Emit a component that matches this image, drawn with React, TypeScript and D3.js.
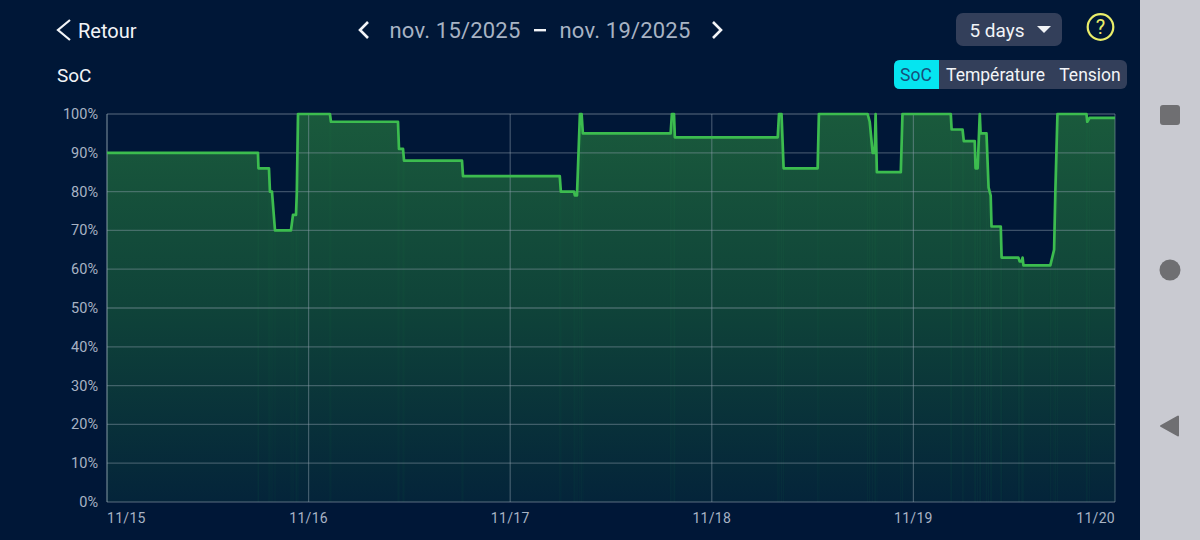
import * as d3 from "d3";

// hours since nov. 15 00:00
const hours = [
  0, 17.97, 18.03, 19.28, 19.4, 19.64, 20, 21.9, 22.14, 22.5, 22.6, 22.74, 26.54, 26.66, 34.64, 34.76,
  35.24, 35.36, 42.26, 42.38, 53.9, 54.03, 55.6, 55.7, 55.95, 56.3, 56.5, 56.65, 67.1, 67.25, 67.5, 67.6,
  79.85, 80, 80.3, 80.55, 84.6, 84.75, 90.55, 90.8, 91.15, 91.4, 91.5, 91.65, 94.5, 94.7, 100.45, 100.55,
  101.85, 102, 103.3, 103.4, 103.65, 103.9, 104, 104.7, 104.95, 105.2, 105.3, 106.4, 106.5, 108.5, 108.65,
  108.9, 109, 109.1, 112.3, 112.75, 112.9, 113.15, 116.6, 116.7, 116.98, 120,
];
const soc = [
  90, 90, 86, 86, 80, 80, 70, 70, 74, 74, 80, 100, 100, 98, 98, 91,
  91, 88, 88, 84, 84, 80, 80, 79, 79, 100, 100, 95, 95, 100, 100, 94,
  94, 100, 100, 86, 86, 100, 100, 98, 90, 90, 100, 85, 85, 100, 100, 96,
  96, 93, 93, 86, 86, 100, 95, 95, 81, 79, 71, 71, 63, 63, 62,
  62, 63, 61, 61, 65, 80, 100, 100, 98, 99, 99,
];
const yTicks = [0, 10, 20, 30, 40, 50, 60, 70, 80, 90, 100];
const xTicks = [0, 24, 48, 72, 96, 120];
const xLabels = ["11/15", "11/16", "11/17", "11/18", "11/19", "11/20"];
const tabs = ["SoC", "Température", "Tension"];

const width = 1200;
const height = 540;
const plot = { left: 107, right: 1115, top: 114, bottom: 502 };

export default function App() {
  const xScale = d3.scaleLinear().domain([0, 120]).range([plot.left, plot.right]);
  const yScale = d3.scaleLinear().domain([0, 100]).range([plot.bottom, plot.top]);
  const points = hours.map((h, i) => [h, soc[i]] as [number, number]);

  const line = d3
    .line<[number, number]>()
    .x((d) => xScale(d[0]))
    .y((d) => yScale(d[1]));
  const area = d3
    .area<[number, number]>()
    .x((d) => xScale(d[0]))
    .y0(plot.bottom)
    .y1((d) => yScale(d[1]));

  const white = "#f2f4f7";
  const grey = "#a8b3c4";
  const font = "Roboto, sans-serif";

  return (
    <svg
      width={width}
      height={height}
      style={{ position: "absolute", left: 0, top: 0, display: "block" }}
      fontFamily={font}
    >
      <defs>
        <linearGradient id="socFill" x1="0" y1={plot.top} x2="0" y2={plot.bottom} gradientUnits="userSpaceOnUse">
          <stop offset="0" stopColor="#1a5a3c" />
          <stop offset="0.5" stopColor="#0f4339" />
          <stop offset="1" stopColor="#04243a" />
        </linearGradient>
      </defs>
      <rect width={width} height={height} fill="#001737" />

      {/* navigation bar of the phone */}
      <rect x={1140} width={60} height={height} fill="#c9cad1" />
      <rect x={1160} y={105} width={20} height={20} rx={3} fill="#6f6f72" />
      <circle cx={1170} cy={270} r={10.5} fill="#6f6f72" />
      <path d="M1161 426 L1178 416.5 L1178 435.5 Z" fill="#6f6f72" stroke="#6f6f72" strokeWidth={2} strokeLinejoin="round" />

      {/* header */}
      <path d="M70 20 L58 30 L70 40" fill="none" stroke={white} strokeWidth={2.2} />
      <text x={78} y={37.5} fontSize={20} fill={white}>Retour</text>
      <path d="M368 22 L360 30 L368 38" fill="none" stroke={white} strokeWidth={2.6} />
      <text x={455} y={38} fontSize={22} fill={grey} textAnchor="middle" letterSpacing={0.2}>nov. 15/2025</text>
      <rect x={534} y={29} width={12} height={2.4} fill={white} />
      <text x={625} y={38} fontSize={22} fill={grey} textAnchor="middle" letterSpacing={0.2}>nov. 19/2025</text>
      <path d="M713 22 L721 30 L713 38" fill="none" stroke={white} strokeWidth={2.6} />
      <rect x={956} y={13} width={106} height={33} rx={7} fill="#333f5a" />
      <text x={997} y={37} fontSize={19} fill={white} textAnchor="middle">5 days</text>
      <path d="M1037 26 L1051 26 L1044 33 Z" fill={white} />
      <circle cx={1100.5} cy={27} r={12.8} fill="none" stroke="#eaee6a" strokeWidth={2.2} />
      <text x={1100.5} y={34} fontSize={20} fill="#eaee6a" textAnchor="middle">?</text>
      <text x={57} y={82} fontSize={19} fill={white}>SoC</text>

      {/* tabs */}
      <rect x={894} y={60} width={233} height={29} rx={6} fill="#333f5a" />
      <path d="M939 60 L900 60 Q894 60 894 66 L894 83 Q894 89 900 89 L939 89 Z" fill="#05e5f0" />
      <text x={916} y={81} fontSize={17.5} fill="#17507a" textAnchor="middle">{tabs[0]}</text>
      <text x={995.5} y={81} fontSize={17.5} fill={white} textAnchor="middle">{tabs[1]}</text>
      <text x={1090} y={81} fontSize={17.5} fill={white} textAnchor="middle">{tabs[2]}</text>

      {/* area, with the faint sample stripes */}
      <path d={area(points) ?? ""} fill="url(#socFill)" />
      {points.map((d, i) => (
        <line
          key={i}
          x1={xScale(d[0])}
          x2={xScale(d[0])}
          y1={yScale(d[1])}
          y2={plot.bottom}
          stroke="#3fae5e"
          strokeOpacity={0.05}
        />
      ))}

      {/* grid */}
      {yTicks.map((t) => (
        <g key={t}>
          <line
            x1={plot.left}
            x2={plot.right}
            y1={yScale(t)}
            y2={yScale(t)}
            stroke="#8fa0ad"
            strokeOpacity={0.42}
            strokeWidth={1.3}
          />
          <text x={98} y={yScale(t) + 5} fontSize={14.5} fill={grey} textAnchor="end">
            {t}%
          </text>
        </g>
      ))}
      {xTicks.map((t, i) => (
        <g key={t}>
          <line
            x1={xScale(t)}
            x2={xScale(t)}
            y1={plot.top}
            y2={plot.bottom}
            stroke="#8fa0ad"
            strokeOpacity={0.45}
            strokeWidth={1.2}
          />
          <text
            x={i === 0 ? plot.left : i === 5 ? plot.right : xScale(t)}
            y={523}
            fontSize={14}
            fill={grey}
            textAnchor={i === 0 ? "start" : i === 5 ? "end" : "middle"}
            letterSpacing={0.3}
          >
            {xLabels[i]}
          </text>
        </g>
      ))}
      <line x1={plot.left} x2={plot.left} y1={plot.top} y2={plot.bottom} stroke="#8fa0ad" strokeOpacity={0.45} strokeWidth={1.2} />

      <path d={line(points) ?? ""} fill="none" stroke="#3cbc4f" strokeWidth={2.7} strokeLinejoin="round" />
    </svg>
  );
}
